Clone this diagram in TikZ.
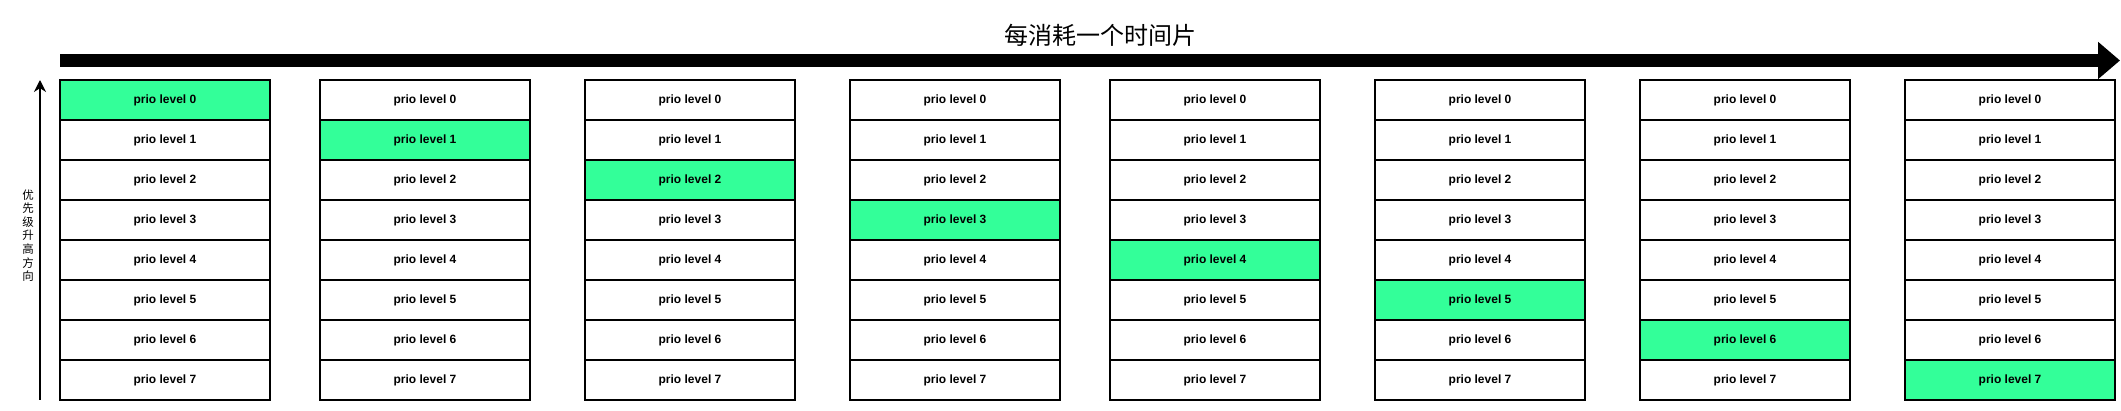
\documentclass[tikz,border=0pt]{standalone}
\usepackage{fontspec}
\setmainfont{Liberation Sans}
\newfontfamily\cjk{Noto Sans CJK SC}
\usetikzlibrary{arrows.meta}
\definecolor{hl}{HTML}{33FF99}
\tikzset{
  cell/.style={draw=black, line width=1.2pt, minimum width=210pt, minimum height=40pt,
    inner sep=0pt, outer sep=0pt, anchor=north west,
    font=\fontsize{12}{14}\selectfont\bfseries},
  timebar/.style={line width=13pt, -{Triangle[length=22pt,width=36pt]}},
  prioarrow/.style={line width=2pt, -{Stealth[length=12pt,width=12pt]}}
}
\begin{document}
\begin{tikzpicture}[x=1pt,y=-1pt]
\useasboundingbox (0,0) rectangle (2121,411);
\node[font=\cjk\fontsize{24}{28}\selectfont, inner sep=0pt] (title) at (1100,35) {每消耗一个时间片};
\coordinate (ts) at (60,60.5);
\coordinate (te) at (2120,60.5);
\draw[timebar] (ts) -- (te);
\coordinate (ls) at (40,400);
\coordinate (le) at (40,80);
\draw[prioarrow] (ls) -- (le);
\node[font=\cjk\fontsize{11.5}{13.6}\selectfont, align=center, inner sep=0pt] (vt) at (28,235.5) {优\\先\\级\\升\\高\\方\\向};
\foreach \c/\x in {0/60,1/320,2/585,3/850,4/1110,5/1375,6/1640,7/1905}{
  \foreach \r in {0,...,7}{
    \ifnum\r=\c \def\f{hl}\else\def\f{white}\fi
    \node[cell, fill=\f] (c\c\r) at (\x,{80+40*\r}) {prio level \r};
  }
}
\end{tikzpicture}
\end{document}
